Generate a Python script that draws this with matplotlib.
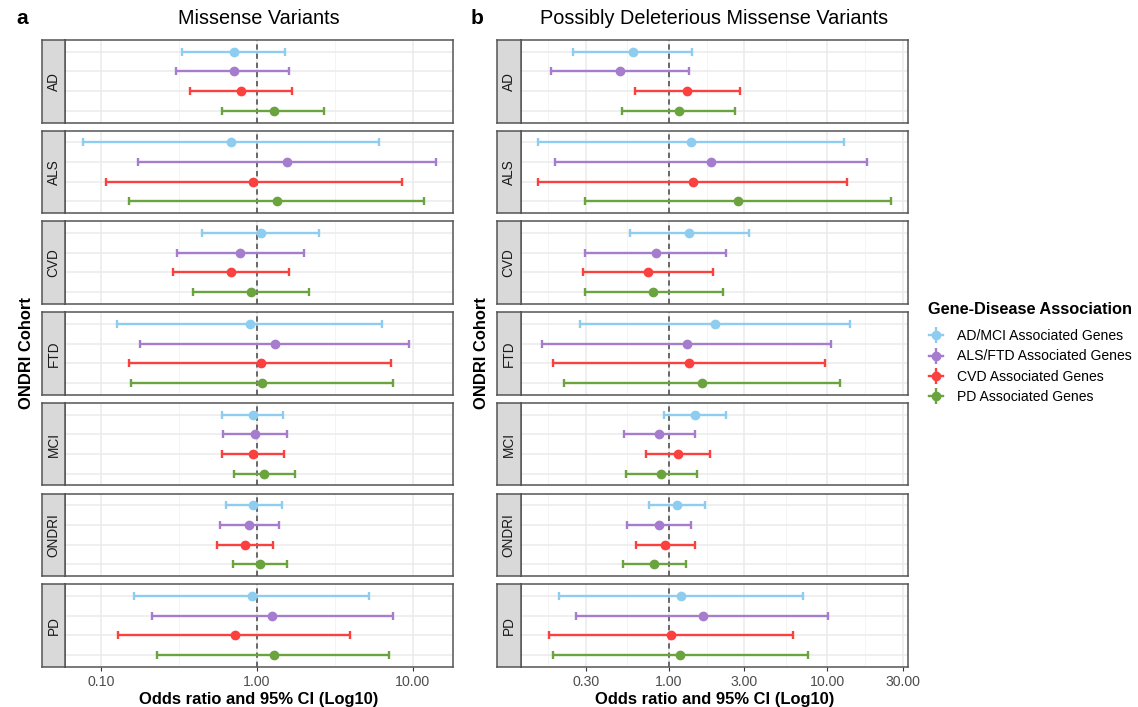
import numpy as np
import matplotlib.pyplot as plt
from matplotlib.lines import Line2D
from matplotlib.legend_handler import HandlerTuple

plt.rcParams['font.family'] = ['Liberation Sans', 'DejaVu Sans']

cohorts = ["AD", "ALS", "CVD", "FTD", "MCI", "ONDRI", "PD"]
gene_groups = ["AD/MCI Associated Genes", "ALS/FTD Associated Genes",
               "CVD Associated Genes", "PD Associated Genes"]
group_colors = ["#8ECDF0", "#A67CCF", "#F9413F", "#6BA43E"]

# rows = cohorts, columns = gene groups (odds ratio, lower CI, upper CI)
missense_or = [
    [0.71, 0.71, 0.79, 1.28],
    [0.68, 1.56, 0.95, 1.34],
    [1.06, 0.78, 0.68, 0.92],
    [0.90, 1.30, 1.06, 1.08],
    [0.94, 0.98, 0.95, 1.11],
    [0.95, 0.89, 0.84, 1.05],
    [0.93, 1.26, 0.72, 1.28],
]
missense_lo = [
    [0.333, 0.305, 0.373, 0.600],
    [0.077, 0.173, 0.108, 0.152],
    [0.444, 0.310, 0.290, 0.389],
    [0.127, 0.179, 0.152, 0.156],
    [0.600, 0.611, 0.602, 0.718],
    [0.638, 0.584, 0.559, 0.705],
    [0.163, 0.214, 0.129, 0.231],
]
missense_hi = [
    [1.51, 1.62, 1.69, 2.71],
    [6.11, 14.1, 8.54, 11.8],
    [2.52, 2.00, 1.62, 2.17],
    [6.38, 9.47, 7.26, 7.44],
    [1.47, 1.56, 1.49, 1.75],
    [1.45, 1.38, 1.27, 1.57],
    [5.22, 7.51, 3.98, 7.08],
]

deleterious_or = [
    [0.59, 0.49, 1.31, 1.16],
    [1.38, 1.86, 1.42, 2.74],
    [1.34, 0.83, 0.74, 0.80],
    [1.95, 1.30, 1.34, 1.62],
    [1.47, 0.87, 1.15, 0.89],
    [1.13, 0.87, 0.95, 0.81],
    [1.19, 1.64, 1.04, 1.18],
]
deleterious_lo = [
    [0.250, 0.180, 0.612, 0.509],
    [0.150, 0.191, 0.149, 0.296],
    [0.567, 0.297, 0.287, 0.295],
    [0.274, 0.159, 0.186, 0.217],
    [0.934, 0.522, 0.716, 0.537],
    [0.751, 0.545, 0.619, 0.512],
    [0.202, 0.261, 0.176, 0.185],
]
deleterious_hi = [
    [1.40, 1.34, 2.83, 2.63],
    [12.8, 17.8, 13.3, 25.5],
    [3.23, 2.31, 1.89, 2.19],
    [13.9, 10.6, 9.71, 12.0],
    [2.30, 1.46, 1.82, 1.50],
    [1.70, 1.38, 1.46, 1.29],
    [7.08, 10.1, 6.13, 7.59],
]

W, H = 1138, 707
fig = plt.figure(figsize=(W / 100, H / 100), dpi=100)


def box(x0, y0, x1, y1):
    return [x0 / W, 1 - y1 / H, (x1 - x0) / W, (y1 - y0) / H]


panels = [
    dict(tag="a", title="Missense Variants",
         odds=missense_or, lo=missense_lo, hi=missense_hi,
         strip_x=42, x0=65, x1=453, ylab_x=27, tag_x=22,
         xlim=(0.059, 18.1), breaks=[0.01, 0.1, 1, 10, 100]),
    dict(tag="b", title="Possibly Deleterious Missense Variants",
         odds=deleterious_or, lo=deleterious_lo, hi=deleterious_hi,
         strip_x=496.7, x0=520.7, x1=908.3, ylab_x=481, tag_x=477,
         xlim=(0.116, 32.6), breaks=[0.1, 0.3, 1, 3, 10, 30, 100]),
]

facet_top = 40
facet_h = 82.5
facet_step = 90.7
border = "#555555"
ypos = np.arange(len(gene_groups), 0, -1)

for p in panels:
    odds = np.array(p["odds"])
    lo = np.array(p["lo"])
    hi = np.array(p["hi"])
    ext = np.array(p["breaks"], dtype=float)
    major = ext[(ext >= p["xlim"][0]) & (ext <= p["xlim"][1])]
    minor = np.sqrt(ext[:-1] * ext[1:])
    minor = minor[(minor >= p["xlim"][0]) & (minor <= p["xlim"][1])]

    for i, cohort in enumerate(cohorts):
        top = facet_top + i * facet_step
        bot = top + facet_h
        ax = fig.add_axes(box(p["x0"], top, p["x1"], bot))
        ax.set_xscale("log")
        ax.set_xlim(*p["xlim"])
        ax.set_ylim(0.4, len(gene_groups) + 0.6)
        ax.set_xticks(major)
        ax.set_xticks(minor, minor=True)
        ax.set_xticklabels([f"{v:.2f}" for v in major])
        ax.set_yticks(ypos)
        ax.set_yticklabels([])
        ax.tick_params(axis="y", length=0)
        ax.tick_params(axis="x", which="minor", length=0, labelbottom=False)
        ax.grid(which="major", color="#EBEBEB", lw=1.1, zorder=0)
        ax.grid(which="minor", axis="x", color="#F2F2F2", lw=0.6, zorder=0)
        ax.set_axisbelow(True)
        for s in ax.spines.values():
            s.set_color(border)
            s.set_linewidth(1.1)
        ax.axvline(1, color="#444444", lw=1.1, ls=(0, (3.5, 2.5)), zorder=1)

        for j, c in enumerate(group_colors):
            ax.errorbar(odds[i, j], ypos[j],
                        xerr=[[odds[i, j] - lo[i, j]], [hi[i, j] - odds[i, j]]],
                        fmt="o", color=c, ecolor=c, elinewidth=1.7,
                        capsize=3, capthick=1.7, markersize=6, zorder=3)

        if i == len(cohorts) - 1:
            ax.tick_params(axis="x", which="major", length=3, color="#333333",
                           labelsize=10.2, labelcolor="#4D4D4D", pad=3)
            ax.set_xlabel("Odds ratio and 95% CI (Log10)", fontsize=11.9,
                          fontweight="bold", labelpad=2)
        else:
            ax.tick_params(axis="x", which="major", length=0, labelbottom=False)

        sax = fig.add_axes(box(p["strip_x"], top, p["x0"], bot))
        sax.set_facecolor("#D9D9D9")
        sax.set_xticks([])
        sax.set_yticks([])
        for s in sax.spines.values():
            s.set_color(border)
            s.set_linewidth(1.1)
        sax.text(0.5, 0.5, cohort, rotation=90, ha="center", va="center",
                 fontsize=9.8, color="#1A1A1A", transform=sax.transAxes)

    fig.text((p["x0"] + p["x1"]) / 2 / W, 1 - 18 / H, p["title"],
             ha="center", va="center", fontsize=14.3)
    fig.text(p["tag_x"] / W, 1 - 18 / H, p["tag"], ha="center", va="center",
             fontsize=15, fontweight="bold")
    mid = facet_top + (len(cohorts) - 1) * facet_step / 2 + facet_h / 2
    fig.text(p["ylab_x"] / W, 1 - mid / H, "ONDRI Cohort", rotation=90,
             ha="center", va="center", fontsize=11.9, fontweight="bold")

# legend: cross-shaped keys like ggplot's errorbar + point glyph
handles = []
for c in group_colors:
    h1 = Line2D([0], [0], color=c, lw=1.7, marker="o", markersize=6)
    h2 = Line2D([0], [0], color=c, marker="|", markersize=12, mew=1.7, ls="none")
    handles.append((h1, h2))

fig.text(928 / W, 1 - 309.5 / H, "Gene-Disease Association", ha="left",
         va="center", fontsize=11.8, fontweight="bold")
fig.legend(handles, gene_groups, loc="upper left",
           bbox_to_anchor=(929 / W, 1 - 329 / H), frameon=False,
           fontsize=10.1, handler_map={tuple: HandlerTuple(ndivide=1, pad=0)},
           handlelength=1.0, handletextpad=1.0, labelspacing=0.46,
           borderpad=0, borderaxespad=0)

fig.savefig("out.png", dpi=100)
